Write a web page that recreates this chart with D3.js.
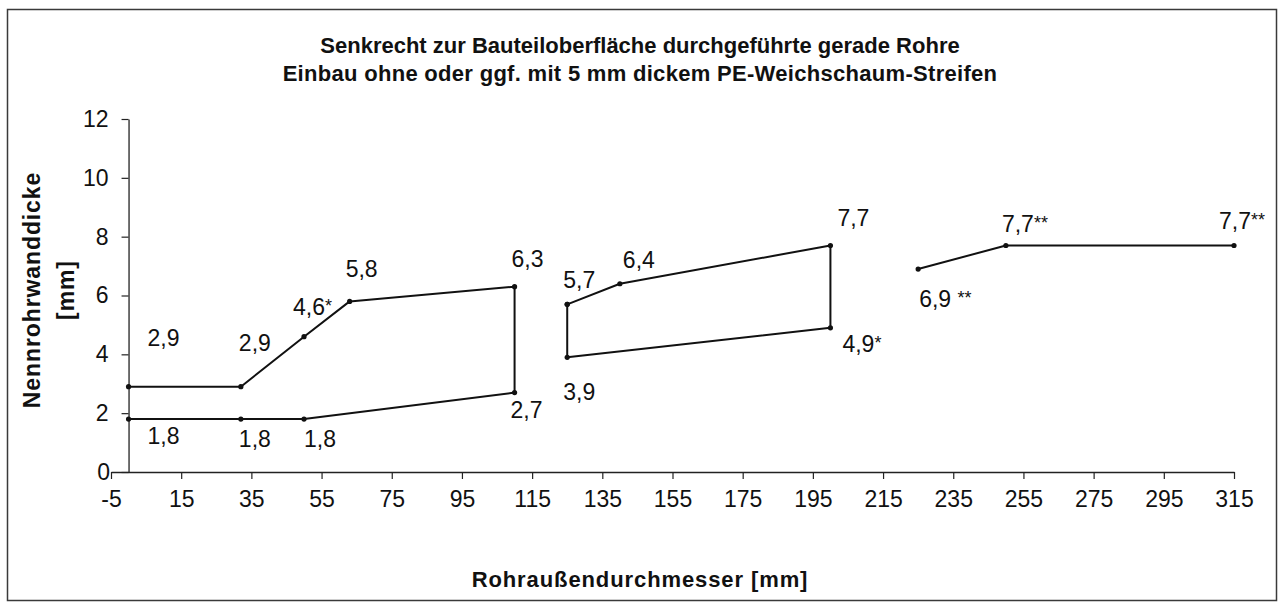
<!DOCTYPE html>
<html>
  <head>
    <meta charset="utf-8">
    <title>Nennrohrwanddicke</title>
    <script src="https://d3js.org/d3.v7.min.js"></script>
    <style>
      body {
        margin: 0;
        background: #fff;
      }

      svg {
        font-family: "Liberation Sans", Arial, sans-serif;
        display: block;
      }
    </style>
  </head>
  <body>
    <div id="chart"></div>
    <script>

      // titles
      const titleLines = [
        "Senkrecht zur Bauteiloberfläche durchgeführte gerade Rohre",
        "Einbau ohne oder ggf. mit 5 mm dickem PE-Weichschaum-Streifen"
      ]
      const xTitle = "Rohraußendurchmesser [mm]"
      const yTitleLines = ["Nennrohrwanddicke", "[mm]"]

      // axis ticks
      const xTicks = [-5, 15, 35, 55, 75, 95, 115, 135, 155, 175, 195, 215, 235, 255, 275, 295, 315]
      const yTicks = [0, 2, 4, 6, 8, 10, 12]

      // left group: upper edge, then down at 110 and back along lower edge
      const groupA_x = [0, 32, 50, 63, 110, 110, 50, 32, 0]
      const groupA_y = [2.9, 2.9, 4.6, 5.8, 6.3, 2.7, 1.8, 1.8, 1.8]
      const groupA_labels = ["2,9", "2,9", "4,6*", "5,8", "6,3", "2,7", "1,8", "1,8", "1,8"]

      // middle group (closed shape)
      const groupB_x = [125, 140, 200, 200, 125, 125]
      const groupB_y = [5.7, 6.4, 7.7, 4.9, 3.9, 5.7]
      const groupB_labels = ["5,7", "6,4", "7,7", "4,9*", "3,9", ""]

      // right group
      const groupC_x = [225, 250, 315]
      const groupC_y = [6.9, 7.7, 7.7]
      const groupC_labels = ["6,9 **", "7,7**", "7,7**"]

      // label offsets from their point (left edge, baseline)
      const groupA_offsets = [[19, -41], [-2, -36], [-11, -22], [-4, -24], [-3, -20], [-4, 25], [0, 28], [-2, 28], [19, 25]]
      const groupB_offsets = [[-4, -16], [3, -16], [7, -19], [12, 24], [-4, 43], [0, 0]]
      const groupC_offsets = [[1, 38], [-4, -13], [-15, -16]]

      const width = 1283
      const height = 603

      const svg = d3.select("#chart")
        .append("svg")
        .attr("width", width)
        .attr("height", height)

      // outer frame
      svg.append("rect")
        .attr("x", 7.5)
        .attr("y", 9.5)
        .attr("width", 1269)
        .attr("height", 591)
        .attr("fill", "none")
        .attr("stroke", "#3a3a3a")
        .attr("stroke-width", 1.5)

      const x = d3.scaleLinear()
        .domain([-5, 315])
        .range([111, 1234])

      const y = d3.scaleLinear()
        .domain([0, 12])
        .range([472, 119])

      // title
      svg.append("text")
        .attr("x", 640)
        .attr("y", 53)
        .attr("text-anchor", "middle")
        .style("font-weight", "bold")
        .style("font-size", "22px")
        .attr("fill", "#111")
        .selectAll("tspan")
        .data(titleLines)
        .enter().append("tspan")
        .attr("x", 640)
        .attr("dy", (d, i) => i === 0 ? 0 : 28)
        .style("letter-spacing", (d, i) => i === 0 ? "0px" : "0.3px")
        .text(d => d)

      // x axis
      const xAxis = d3.axisBottom(x)
        .tickValues(xTicks)
        .tickSizeInner(7)
        .tickSizeOuter(0)
        .tickPadding(12)
        .tickFormat(d => d)

      const gx = svg.append("g")
        .attr("transform", `translate(0,${y(0)})`)
        .call(xAxis)
      gx.select(".domain").attr("stroke", "#222").attr("stroke-width", 1.3)
      gx.selectAll(".tick line").attr("stroke", "#222").attr("stroke-width", 1.2)
      gx.selectAll(".tick text")
        .style("font-size", "23px")
        .style("font-family", "'Liberation Sans', Arial, sans-serif")
        .attr("fill", "#111")

      // y axis crosses at x = 0
      const yAxis = d3.axisLeft(y)
        .tickValues(yTicks)
        .tickSizeInner(7)
        .tickSizeOuter(0)
        .tickPadding(13)

      const gy = svg.append("g")
        .attr("transform", `translate(${x(0)},0)`)
        .call(yAxis)
      gy.select(".domain").attr("stroke", "#222").attr("stroke-width", 1.3)
      gy.selectAll(".tick line").attr("stroke", "#222").attr("stroke-width", 1.2)
      gy.selectAll(".tick text")
        .style("font-size", "23px")
        .style("font-family", "'Liberation Sans', Arial, sans-serif")
        .attr("fill", "#111")
      // the 0 label sits left of where the x axis starts
      gy.selectAll(".tick")
        .filter(d => d === 0)
        .select("text")
        .attr("x", x(-5) - x(0) - 1)

      // axis titles
      svg.append("text")
        .attr("x", 640)
        .attr("y", 587)
        .attr("text-anchor", "middle")
        .style("font-weight", "bold")
        .style("font-size", "22px")
        .style("letter-spacing", "0.9px")
        .attr("fill", "#111")
        .text(xTitle)

      svg.append("text")
        .attr("transform", "translate(40,290) rotate(-90)")
        .attr("text-anchor", "middle")
        .style("font-weight", "bold")
        .style("font-size", "23px")
        .style("letter-spacing", "0.9px")
        .attr("fill", "#111")
        .selectAll("tspan")
        .data(yTitleLines)
        .enter().append("tspan")
        .attr("x", 0)
        .attr("dy", (d, i) => i === 0 ? 0 : 34)
        .text(d => d)

      const line = d3.line()
        .x(d => x(d.x))
        .y(d => y(d.y))

      const groups = [
        {xs: groupA_x, ys: groupA_y, labels: groupA_labels, offsets: groupA_offsets},
        {xs: groupB_x, ys: groupB_y, labels: groupB_labels, offsets: groupB_offsets},
        {xs: groupC_x, ys: groupC_y, labels: groupC_labels, offsets: groupC_offsets}
      ]

      groups.forEach(g => {
        const pts = g.xs.map((v, i) => ({x: v, y: g.ys[i], label: g.labels[i], off: g.offsets[i]}))

        svg.append("path")
          .datum(pts)
          .attr("d", line)
          .attr("fill", "none")
          .attr("stroke", "#111")
          .attr("stroke-width", 2)
          .attr("stroke-linejoin", "round")

        svg.append("g")
          .selectAll("circle")
          .data(pts)
          .enter().append("circle")
          .attr("cx", d => x(d.x))
          .attr("cy", d => y(d.y))
          .attr("r", 2.6)
          .attr("fill", "#111")

        const labels = svg.append("g")
          .selectAll("text")
          .data(pts.filter(d => d.label !== ""))
          .enter().append("text")
          .attr("x", d => x(d.x) + d.off[0])
          .attr("y", d => y(d.y) + d.off[1])
          .style("font-size", "23px")
          .attr("fill", "#111")

        // numbers normal size, asterisks smaller and raised
        labels.append("tspan")
          .text(d => d.label.replace(/\*/g, ""))
        labels.append("tspan")
          .attr("dy", -3)
          .style("font-size", "18px")
          .text(d => (d.label.match(/\*/g) || []).join(""))
      })

    </script>
  </body>
</html>
